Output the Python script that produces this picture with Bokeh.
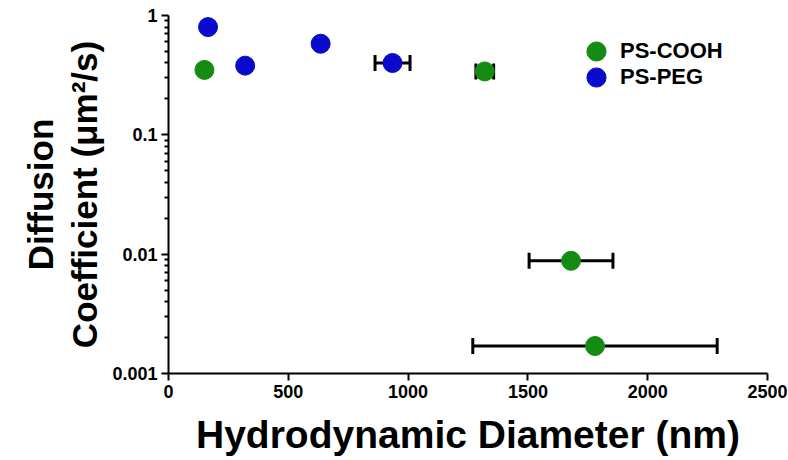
from bokeh.plotting import figure
from bokeh.models import (Range1d, FixedTicker, Whisker, ColumnDataSource, Legend, LegendItem)
from bokeh.embed import file_html
from bokeh.resources import INLINE

# ---- data ----
cooh_x = [150, 1320, 1680, 1780]
cooh_y = [0.35, 0.34, 0.0088, 0.0017]
cooh_xerr = [0, 37, 175, 510]

peg_x = [165, 320, 635, 935]
peg_y = [0.80, 0.38, 0.58, 0.40]
peg_xerr = [0, 0, 0, 73]

x_ticks = [0, 500, 1000, 1500, 2000, 2500]
y_ticks = [0.001, 0.01, 0.1, 1]
y_tick_labels = ["0.001", "0.01", "0.1", "1"]

GREEN = "#148c14"
BLUE = "#0a0acc"
FONT = "Liberation Sans"

p = figure(width=788, height=460, y_axis_type="log",
           x_range=Range1d(0, 2500), y_range=Range1d(0.001, 1),
           output_backend="svg", toolbar_location=None,
           min_border_left=168, min_border_right=21,
           min_border_top=15, min_border_bottom=87)
p.outline_line_color = None
p.xgrid.grid_line_color = None
p.ygrid.grid_line_color = None

# error bars
def err_source(xs, ys, errs):
    sel = [i for i, e in enumerate(errs) if e > 0]
    return ColumnDataSource(dict(
        base=[ys[i] for i in sel],
        lower=[xs[i] - errs[i] for i in sel],
        upper=[xs[i] + errs[i] for i in sel]))

for src in (err_source(cooh_x, cooh_y, cooh_xerr), err_source(peg_x, peg_y, peg_xerr)):
    w = Whisker(source=src, base="base", lower="lower", upper="upper",
                dimension="width", line_color="black", line_width=3)
    for h in (w.upper_head, w.lower_head):
        h.size = 16
        h.line_width = 3
        h.line_color = "black"
    p.add_layout(w)

r1 = p.scatter(cooh_x, cooh_y, size=19, fill_color=GREEN, line_color=GREEN)
r2 = p.scatter(peg_x, peg_y, size=19, fill_color=BLUE, line_color=BLUE)

def make_legend(label, rend, vy):
    lg = Legend(items=[LegendItem(label=label, renderers=[rend])], location=(404, vy))
    lg.border_line_color = None
    lg.background_fill_alpha = 0
    lg.label_text_font = FONT
    lg.label_text_font_style = "bold"
    lg.label_text_font_size = "22px"
    lg.label_text_color = "black"
    lg.glyph_width = 48
    lg.glyph_height = 48
    lg.label_height = 20
    lg.label_standoff = 0
    lg.padding = 0
    lg.margin = 0
    return lg

p.add_layout(make_legend("PS-COOH", r1, 298))
p.add_layout(make_legend("PS-PEG", r2, 272))

# axes
for ax in (p.xaxis[0], p.yaxis[0]):
    ax.axis_line_width = 2
    ax.axis_line_color = "black"
    ax.major_tick_line_width = 2
    ax.major_tick_line_color = "black"
    ax.major_tick_out = 7
    ax.major_tick_in = 0
    ax.major_label_text_font = FONT
    ax.major_label_text_font_style = "bold"
    ax.major_label_text_font_size = "18px"
    ax.major_label_text_color = "black"
    ax.axis_label_text_font = FONT
    ax.axis_label_text_font_style = "bold"
    ax.axis_label_text_color = "black"

p.xaxis.ticker = FixedTicker(ticks=x_ticks)
p.xaxis.minor_tick_line_color = None
p.xaxis.major_label_standoff = 4
p.xaxis.axis_label = "Hydrodynamic Diameter (nm)"
p.xaxis.axis_label_text_font_size = "39px"
p.xaxis.axis_label_standoff = 12

minor = [m * t for t in y_ticks[:-1] for m in range(2, 10)]
p.yaxis.ticker = FixedTicker(ticks=y_ticks, minor_ticks=minor)
p.yaxis.major_label_overrides = {t: l for t, l in zip(y_ticks, y_tick_labels)}
p.yaxis.minor_tick_line_width = 2
p.yaxis.minor_tick_line_color = "black"
p.yaxis.minor_tick_out = 4
p.yaxis.minor_tick_in = 0
p.yaxis.major_label_standoff = 4
p.yaxis.axis_label = "Diffusion\nCoefficient (\u03bcm\u00b2/s)"
p.yaxis.axis_label_text_font_size = "35px"
p.yaxis.axis_label_text_line_height = 1.15
p.yaxis.axis_label_standoff = 5

open("out.html", "w").write(file_html(p, INLINE))
